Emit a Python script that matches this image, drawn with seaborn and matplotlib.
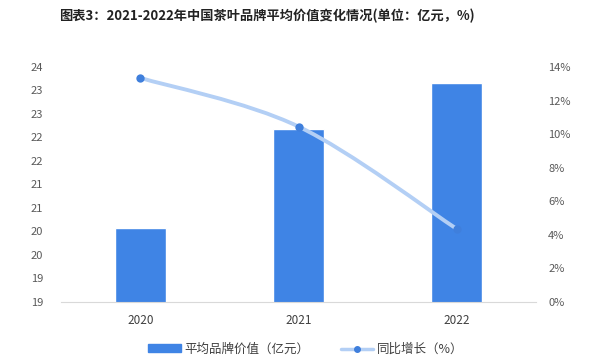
import matplotlib
matplotlib.use("Agg")
import matplotlib.pyplot as plt
import seaborn as sns
import pandas as pd
import numpy as np
from matplotlib.patches import Patch, PathPatch
from matplotlib.path import Path
from matplotlib.lines import Line2D

years = ["2020", "2021", "2022"]
avg_value = [20.57, 22.68, 23.66]
growth = [13.35, 10.45, 4.35]
left_ticks = [19, 19.5, 20, 20.5, 21, 21.5, 22, 22.5, 23, 23.5, 24]
left_labels = ["19", "19", "20", "20", "21", "21", "22", "22", "23", "23", "24"]
right_ticks = [0, 2, 4, 6, 8, 10, 12, 14]
right_labels = ["0%", "2%", "4%", "6%", "8%", "10%", "12%", "14%"]
title = "图表3：2021-2022年中国茶叶品牌平均价值变化情况(单位：亿元，%)"
bar_label = "平均品牌价值（亿元）"
line_label = "同比增长（%）"

sns.set_theme(style="white")
plt.rcParams["font.family"] = ["Noto Sans CJK SC", "DejaVu Sans"]

df = pd.DataFrame({"year": years, "value": avg_value, "growth": growth})
df["pos"] = np.arange(len(years)).astype(float)

fig = plt.figure(figsize=(6, 3.62), dpi=100)
ax = fig.add_axes([0.102, 0.166, 0.791, 0.649])

bar_color = "#3f84e5"
line_color = "#b3cff5"
marker_color = "#3f7fdc"

sns.barplot(data=df, x="year", y="value", ax=ax, color=bar_color, width=0.32,
            saturation=1)
ax.set_ylim(19, 24)
ax.set_xlim(-0.5, 2.5)
ax.set_yticks(left_ticks)
ax.set_yticklabels(left_labels)
ax.set_xlabel("")
ax.set_ylabel("")
ax.tick_params(axis="y", colors="#595959", labelsize=8, length=0, pad=13)
ax.tick_params(axis="x", colors="#404040", labelsize=8.5, length=0, pad=9)
for s in ["top", "right", "left"]:
    ax.spines[s].set_visible(False)
ax.spines["bottom"].set_color("#d9d9d9")
ax.spines["bottom"].set_linewidth(0.8)

ax2 = ax.twinx()
ax2.set_ylim(0, 14)
ax2.set_xlim(-0.5, 2.5)
# smooth curve through the data points (Catmull-Rom as cubic Bezier)
pts = np.column_stack([df["pos"].to_numpy(float), df["growth"].to_numpy(float)])
ext = np.vstack([pts[0], pts, pts[-1]])
verts = [tuple(pts[0])]
codes = [Path.MOVETO]
for i in range(len(pts) - 1):
    p0, p1, p2, p3 = ext[i], ext[i + 1], ext[i + 2], ext[i + 3]
    c1 = p1 + (p2 - p0) / 6.0
    c2 = p2 - (p3 - p1) / 6.0
    verts += [tuple(c1), tuple(c2), tuple(p2)]
    codes += [Path.CURVE4, Path.CURVE4, Path.CURVE4]
ax2.add_patch(PathPatch(Path(verts, codes), facecolor="none",
                        edgecolor=line_color, linewidth=2.8, capstyle="butt",
                        zorder=3))
sns.scatterplot(x=df["pos"].tolist(), y=df["growth"].tolist(), ax=ax2,
                color=marker_color, s=36, edgecolor=marker_color, linewidth=0,
                zorder=6, clip_on=False, legend=False)
ax2.set_ylim(0, 14)
ax2.set_xlim(-0.5, 2.5)
ax2.set_yticks(right_ticks)
ax2.set_yticklabels(right_labels)
ax2.set_ylabel("")
ax2.set_xlabel("")
ax2.tick_params(axis="y", colors="#595959", labelsize=8, length=0, pad=9)
for s in ["top", "right", "left", "bottom"]:
    ax2.spines[s].set_visible(False)
ax2.grid(False)
ax.grid(False)

fig.text(0.445, 0.955, title, ha="center", va="center", fontsize=9.5,
         fontweight="bold", color="#222222")

handles = [Patch(facecolor=bar_color, edgecolor=bar_color),
           Line2D([0], [0], color=line_color, linewidth=2.5, marker="o",
                  markersize=4, markerfacecolor=marker_color,
                  markeredgecolor=marker_color)]
fig.legend(handles, [bar_label, line_label], loc="center",
           bbox_to_anchor=(0.51, 0.035), ncol=2, frameon=False, fontsize=9,
           labelcolor="#404040", handlelength=2.6, handleheight=0.6,
           columnspacing=2.5, handletextpad=0.3)

fig.savefig("out.png", dpi=100)
